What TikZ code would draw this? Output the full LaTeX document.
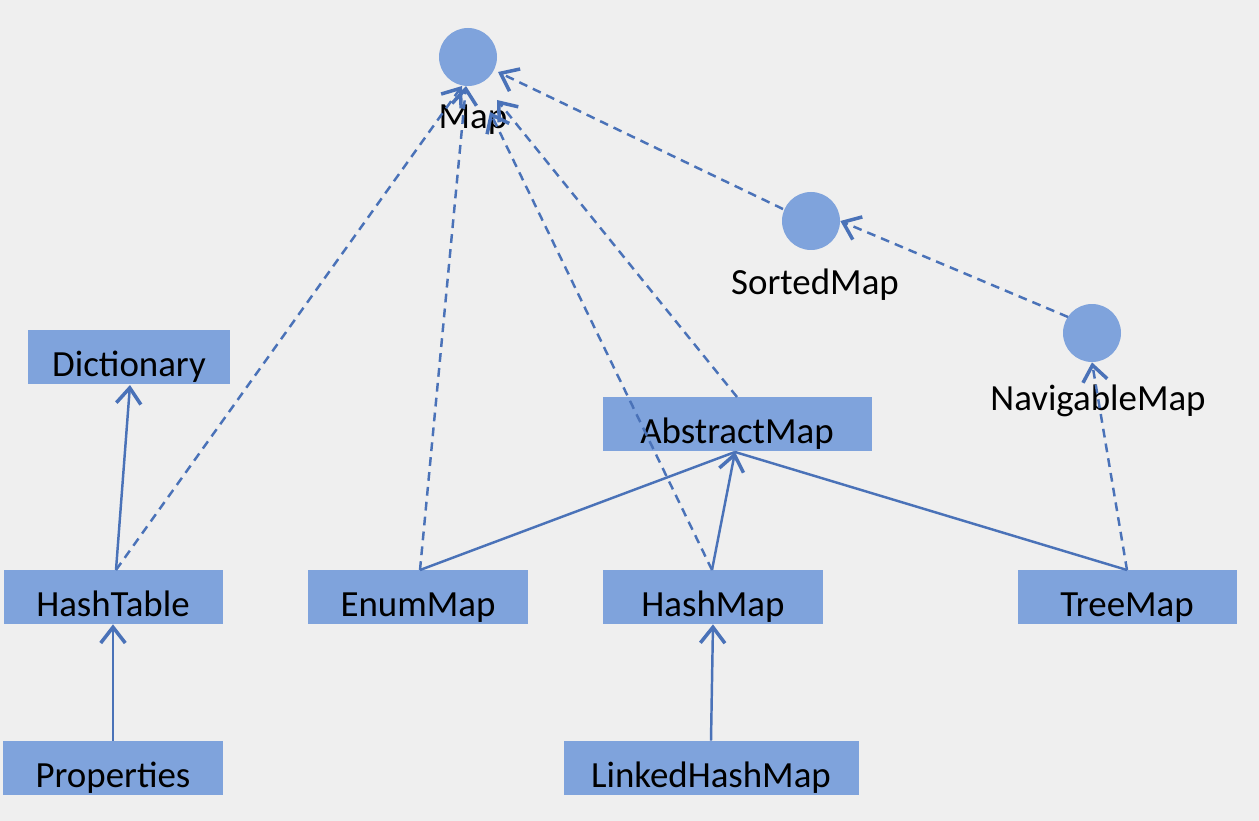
\documentclass[tikz,border=0pt]{standalone}
\usepackage{fontspec}
\setmainfont{Carlito}
\usetikzlibrary{arrows.meta}
\definecolor{bg}{HTML}{EFEFEF}
\definecolor{boxc}{HTML}{7FA3DC}
\definecolor{linec}{HTML}{4A72B8}
\tikzset{
  cls/.style={fill=boxc, draw=none, minimum height=54*0.02cm, inner sep=0pt, text height=0.8cm, text depth=0pt, font=\fontsize{21}{24}\selectfont},
  iface/.style={circle, fill=boxc, draw=none, minimum size=58*0.02cm, inner sep=0pt},
  lbl/.style={font=\fontsize{21}{24}\selectfont, inner sep=0pt},
  ext/.style={draw=linec, line width=1.4pt, -{Straight Barb[length=9pt,width=14pt,line width=2pt]}},
  impl/.style={ext, dash pattern=on 5pt off 3.5pt},
  plain/.style={draw=linec, line width=1.4pt}
}
\begin{document}
\begin{tikzpicture}[x=0.02cm,y=-0.02cm]
\fill[bg] (0,0) rectangle (1259,821);
\useasboundingbox (0,0) rectangle (1259,821);
% interfaces
\node[iface] (map) at (468,57) {};
\node[lbl] (maplbl) at (473,120) {Map};
\node[iface] (sorted) at (811,221) {};
\node[lbl] (sortedlbl) at (815,285) {SortedMap};
\node[iface] (nav) at (1092,333) {};
\node[lbl] (navlbl) at (1098,401) {NavigableMap};
% classes
\node[cls, minimum width=202*0.02cm] (dict) at (129,357) {Dictionary};
\node[cls, minimum width=219*0.02cm] (htable) at (113,597) {HashTable};
\node[cls, minimum width=220*0.02cm] (props) at (113,768) {Properties};
\node[cls, minimum width=220*0.02cm] (enum) at (418,597) {EnumMap};
\node[cls, minimum width=220*0.02cm] (hmap) at (713,597) {HashMap};
\node[cls, minimum width=219*0.02cm] (tree) at (1127,597) {TreeMap};
\node[cls, minimum width=269*0.02cm] (amap) at (737,424) {AbstractMap};
\node[cls, minimum width=295*0.02cm] (lhm) at (711,768) {LinkedHashMap};
% anchor points
\coordinate (htT) at (116,570);
\coordinate (enT) at (420,570);
\coordinate (hmT) at (712,570);
\coordinate (trT) at (1127,570);
\coordinate (amB) at (735,452);
\coordinate (amT) at (737,397);
\coordinate (dictB) at (130,385);
\coordinate (mapB) at (462,86);
\coordinate (mapB2) at (466,86);
\coordinate (mapP) at (490,112);
\coordinate (mapQ) at (497,100);
\coordinate (mapR) at (498,72);
% solid
\draw[ext] (htT) -- (dictB);
\draw[ext] (props.north) -- (htable.south);
\draw[ext] (lhm.north) -- (hmap.south);
\draw[plain] (enT) -- (amB);
\draw[plain] (trT) -- (amB);
\draw[ext] (hmT) -- (amB);
% dashed
\draw[impl] (htT) -- (mapB);
\draw[impl] (enT) -- (mapB2);
\draw[impl] (hmT) -- (mapP);
\draw[impl] (amT) -- (mapQ);
\draw[impl] (sorted) ++(-28,-12) coordinate (sl) (sl) -- (mapR);
\draw[impl] (nav) ++(-24,-16) coordinate (nl) (nl) -- (sorted.east);
\draw[impl] (trT) -- (nav.south);
\end{tikzpicture}
\end{document}
